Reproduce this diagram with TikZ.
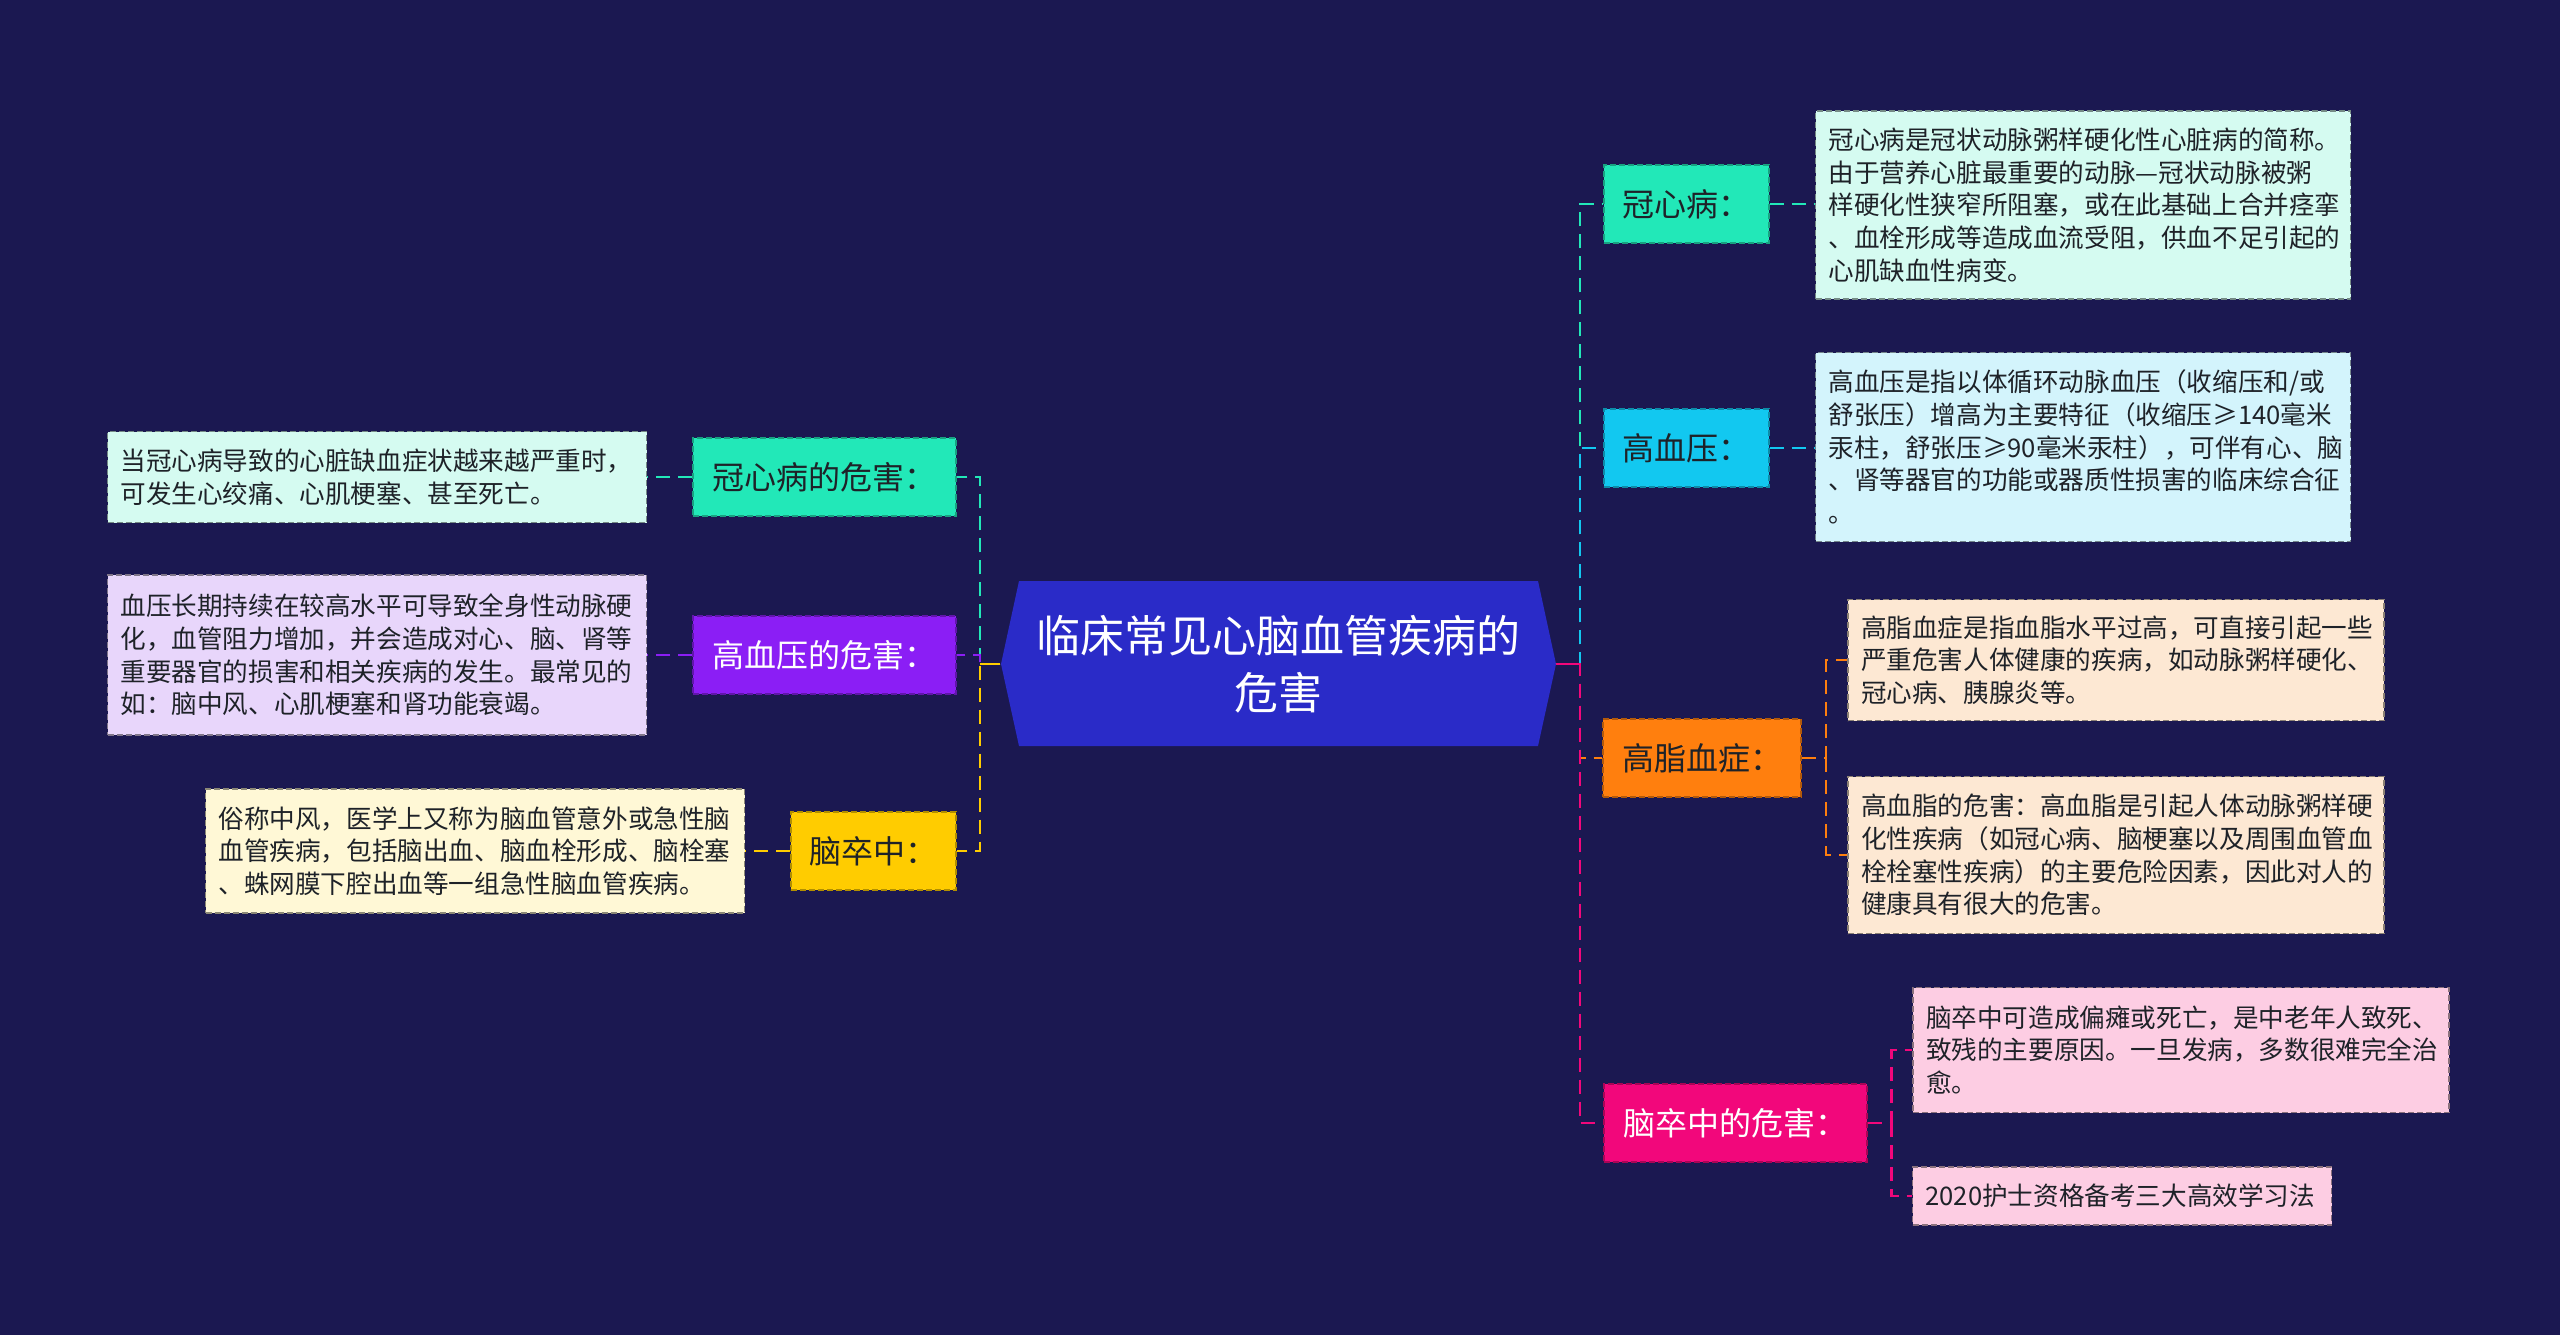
\documentclass[tikz,border=0pt]{standalone}
\usepackage{fontspec}
\setmainfont{Noto Sans CJK SC}
\begin{document}
\definecolor{bgc}{HTML}{1B1851}
\definecolor{cfill}{HTML}{2A2BC8}
\definecolor{tealc}{HTML}{22E8B8}
\definecolor{skyc}{HTML}{12C8F0}
\definecolor{orangec}{HTML}{FF7F0E}
\definecolor{magc}{HTML}{F2077B}
\definecolor{purc}{HTML}{8B1EF5}
\definecolor{yelc}{HTML}{FFCC00}
\definecolor{mintd}{HTML}{D5FBF1}
\definecolor{blued}{HTML}{D3F4FC}
\definecolor{peachd}{HTML}{FDE8D3}
\definecolor{pinkd}{HTML}{FDCDE3}
\definecolor{lavd}{HTML}{E8D6FB}
\definecolor{yeld}{HTML}{FFF8D6}
\definecolor{txt}{HTML}{1E2228}
\begin{tikzpicture}[x=1pt,y=-1pt,
  lab/.style={draw=#1!70!black, fill=#1, line width=2pt, dash pattern=on 6pt off 3pt,
    inner sep=0pt, font=\fontsize{32}{38}\selectfont, minimum height=78pt, align=center, text=txt},
  det/.style={draw=#1!55!black, fill=#1, line width=1.8pt, dash pattern=on 6pt off 3pt,
    inner xsep=13pt, inner ysep=0pt, font=\fontsize{25.6}{32.7}\selectfont, align=left, text=txt},
  conn/.style={line width=2.6pt, dash pattern=on 14pt off 8pt}]
\fill[bgc] (0,0) rectangle (2560,1335);
\useasboundingbox (0,0) rectangle (2560,1335);
% center
\fill[cfill] (1001,664) -- (1019,581) -- (1538,581) -- (1556,664) -- (1538,746) -- (1019,746) -- cycle;
\node[text=white, font=\fontsize{44}{57}\selectfont, align=center, minimum width=555pt, minimum height=165pt, inner sep=0pt] (c) at (1278,664) {临床常见心脑血管疾病的\\危害};
\coordinate (rs) at (1580,664);
\coordinate (ls) at (980,664);
% right labels
\node[lab=tealc, minimum width=165pt] (n1) at (1686,204) {冠心病：};
\node[lab=skyc, minimum width=165pt] (n2) at (1686,448) {高血压：};
\node[lab=orangec, minimum width=198pt] (n3) at (1702,758) {高脂血症：};
\node[lab=magc, minimum width=263pt, text=white] (n4) at (1735,1123) {脑卒中的危害：};
% right details
\node[det=mintd, text width=509pt, minimum height=188pt] (d1) at (2083,205) {冠心病是冠状动脉粥样硬化性心脏病的简称。\\由于营养心脏最重要的动脉—冠状动脉被粥\\样硬化性狭窄所阻塞，或在此基础上合并痉挛\\、血栓形成等造成血流受阻，供血不足引起的\\心肌缺血性病变。};
\node[det=blued, text width=509pt, minimum height=189pt] (d2) at (2083,447) {高血压是指以体循环动脉血压（收缩压和/或\\舒张压）增高为主要特征（收缩压≥140毫米\\汞柱，舒张压≥90毫米汞柱），可伴有心、脑\\、肾等器官的功能或器质性损害的临床综合征\\。};
\node[det=peachd, text width=510pt, minimum height=121pt] (d3a) at (2116,660) {高脂血症是指血脂水平过高，可直接引起一些\\严重危害人体健康的疾病，如动脉粥样硬化、\\冠心病、胰腺炎等。};
\node[det=peachd, text width=510pt, minimum height=157pt] (d3b) at (2116,855) {高血脂的危害：高血脂是引起人体动脉粥样硬\\化性疾病（如冠心病、脑梗塞以及周围血管血\\栓栓塞性疾病）的主要危险因素，因此对人的\\健康具有很大的危害。};
\node[det=pinkd, text width=510pt, minimum height=125pt] (d4a) at (2181,1050) {脑卒中可造成偏瘫或死亡，是中老年人致死、\\致残的主要原因。一旦发病，多数很难完全治\\愈。};
\node[det=pinkd, text width=393pt, minimum height=58pt] (d4b) at (2122,1196) {2020护士资格备考三大高效学习法};
% left labels
\node[lab=tealc, minimum width=263pt] (m1) at (824,477) {冠心病的危害：};
\node[lab=purc, minimum width=263pt, text=white] (m2) at (824,655) {高血压的危害：};
\node[lab=yelc, minimum width=165pt] (m3) at (873,851) {脑卒中：};
% left details
\node[det=mintd, text width=513pt, minimum height=91pt] (e1) at (377,477) {当冠心病导致的心脏缺血症状越来越严重时，\\可发生心绞痛、心肌梗塞、甚至死亡。};
\node[det=lavd, text width=513pt, minimum height=160pt] (e2) at (377,655) {血压长期持续在较高水平可导致全身性动脉硬\\化，血管阻力增加，并会造成对心、脑、肾等\\重要器官的损害和相关疾病的发生。最常见的\\如：脑中风、心肌梗塞和肾功能衰竭。};
\node[det=yeld, text width=513pt, minimum height=124pt] (e3) at (475,851) {俗称中风，医学上又称为脑血管意外或急性脑\\血管疾病，包括脑出血、脑血栓形成、脑栓塞\\、蛛网膜下腔出血等一组急性脑血管疾病。};
% right connectors
\draw[conn, tealc] (c.east) -- (rs) |- (n1.west);
\draw[conn, skyc] (c.east) -- (rs) |- (n2.west);
\draw[conn, orangec] (c.east) -- (rs) |- (n3.west);
\draw[conn, magc] (c.east) -- (rs) |- (n4.west);
\draw[line width=2.6pt, magc] (c.east) -- (rs);
\draw[conn, tealc] (n1.east) -- (n1.east -| d1.west);
\draw[conn, skyc] (n2.east) -- (n2.east -| d2.west);
\coordinate (n3s) at ([xshift=24pt]n3.east);
\draw[conn, orangec] (n3.east) -- (n3s) |- (d3a.west);
\draw[conn, orangec] (n3s) |- (d3b.west);
\coordinate (n4s) at ([xshift=24pt]n4.east);
\draw[conn, magc] (n4.east) -- (n4s) |- (d4a.west);
\draw[conn, magc] (n4s) |- (d4b.west);
% left connectors
\draw[conn, tealc] (c.west) -- (ls) |- (m1.east);
\draw[conn, purc] (c.west) -- (ls) |- (m2.east);
\draw[conn, yelc] (c.west) -- (ls) |- (m3.east);
\draw[line width=2.6pt, yelc] (c.west) -- (ls);
\draw[conn, tealc] (m1.west) -- (m1.west -| e1.east);
\draw[conn, purc] (m2.west) -- (m2.west -| e2.east);
\draw[conn, yelc] (m3.west) -- (m3.west -| e3.east);
\end{tikzpicture}
\end{document}
